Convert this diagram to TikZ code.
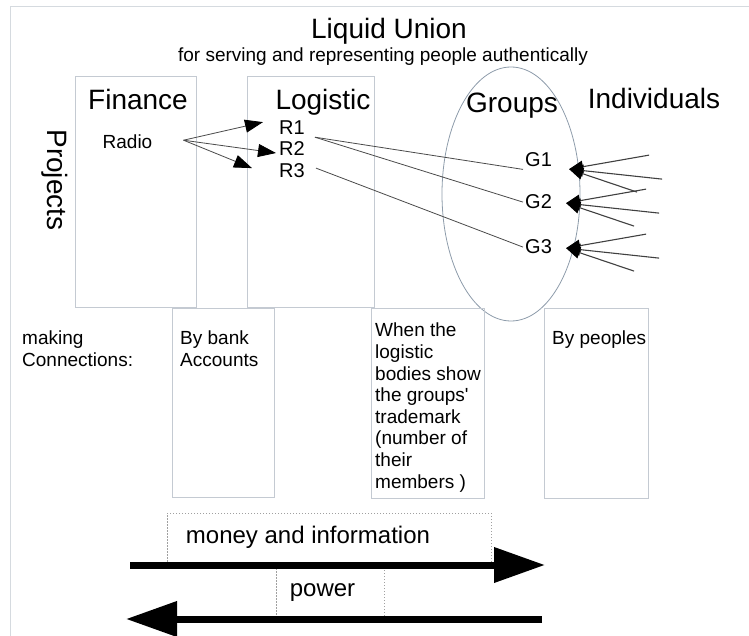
\documentclass[tikz,border=0pt]{standalone}
\usepackage{fontspec}
\setmainfont{Liberation Sans}
\usepackage{tikz}
\usetikzlibrary{shapes.geometric,arrows.meta,positioning}
\definecolor{framegrey}{HTML}{D5DADF}
\definecolor{boxgrey}{HTML}{C4CAD2}
\definecolor{ringgrey}{HTML}{8E9CAB}
\definecolor{linkgrey}{HTML}{4A4A4A}
\definecolor{dotgrey}{HTML}{A0A0A0}

\begin{document}
\begin{tikzpicture}[x=1pt, y=-1pt]
\tikzset{%
  heading/.style = {font=\fontsize{28}{32}\selectfont, inner sep=0pt},
  subtext/.style = {font=\fontsize{19}{22}\selectfont, inner sep=0pt},
  body/.style = {font=\fontsize{19}{21.6}\selectfont, inner sep=0pt, align=left},
  rtag/.style = {font=\fontsize{20}{22}\selectfont, inner sep=2pt},
  flowtext/.style = {font=\fontsize{24}{28}\selectfont, inner sep=0pt},
  panel/.style = {draw=boxgrey, line width=0.9pt, inner sep=0pt, outer sep=0pt},
  dotbox/.style = {draw=dotgrey, line width=0.8pt, dash pattern=on 1.5pt off 1.5pt,
    inner sep=0pt},
  feed/.style = {draw=linkgrey, line width=0.8pt,
    -{Triangle[length=18pt,width=13pt,color=black]}},
  link/.style = {draw=linkgrey, line width=0.8pt},
  member/.style = {draw=black!75, line width=1.1pt,
    -{Triangle[length=14pt,width=12pt,color=black]}},
  flowarrow/.style = {line width=7pt, -{Triangle[length=51pt,width=34pt]}}
}
  \useasboundingbox (0,0) rectangle (749,636);
  \draw[framegrey, line width=1pt] (10,640) -- (10,7) -- (749,7);

  \node[heading, anchor=base] (title) at (389,39){Liquid Union};
  \node[subtext, anchor=base] (subtitle) at (383,62)
    {for serving and representing people authentically};

  \node[panel, minimum width=121pt, minimum height=231pt] (financebox) at (135.5,191.5){};
  \node[panel, minimum width=127pt, minimum height=231pt] (logisticbox) at (310.5,191.5){};
  \node[draw=ringgrey, line width=0.8pt, ellipse, minimum width=138pt,
    minimum height=254pt, inner sep=0pt] (groupring) at (511,194){};

  \node[heading, anchor=base] (finance) at (138,110){Finance};
  \node[heading, anchor=base] (logistic) at (323,110){Logistic};
  \node[heading, anchor=base] (groups) at (512,113){Groups};
  \node[heading, anchor=base] (individuals) at (654,109){Individuals};
  \node[heading, anchor=base, rotate=-90] (projects) at (47,180){Projects};

  \node[subtext, anchor=base] (radio) at (127.5,149){Radio};
  \node[rtag, anchor=base west] (R1) at (277,135){R1};
  \node[rtag, anchor=base west] (R2) at (277,156){R2};
  \node[rtag, anchor=base west] (R3) at (277,178){R3};
  \node[rtag, anchor=base west] (G1) at (523,167){G1};
  \node[rtag, anchor=base west] (G2) at (523,209){G2};
  \node[rtag, anchor=base west] (G3) at (523,254){G3};

  \draw[feed] ([xshift=31pt,yshift=2pt]radio.east) -- ([xshift=-14pt,yshift=6pt]R1.west);
  \draw[feed] ([xshift=31pt,yshift=2pt]radio.east) -- ([xshift=-1pt,yshift=-4pt]R2.west);
  \draw[feed] ([xshift=31pt,yshift=2pt]radio.east) -- ([xshift=-25pt,yshift=3pt]R3.west);

  \draw[link] ([xshift=8pt]R1.south east) -- (G1.south west);
  \draw[link] ([xshift=8pt]R1.south east) -- (G2.west);
  \draw[link] ([xshift=9pt,yshift=3pt]R3.east) -- (G3.west);

  \foreach \g/\dx/\dy in {G1/15/-9, G2/12/-1, G3/12/-1}{
    \foreach \sx/\sy in {80/14, 93/-10, 68/-23}
      \draw[member] ([xshift={(\dx+\sx)*1pt}, yshift={(\dy+\sy)*1pt}]\g.east)
        -- ([xshift=\dx pt, yshift=\dy pt]\g.east);
  }

  \node[panel, minimum width=102pt, minimum height=189pt] (bankbox) at (223,402.5){};
  \node[panel, minimum width=113pt, minimum height=190pt] (trademarkbox) at (427.5,403){};
  \node[panel, minimum width=104pt, minimum height=190pt] (peoplebox) at (596,403){};

  \node[body, anchor=north west] (making) at (22,331){making\\Connections:};
  \node[body, below right=23pt and 8pt of bankbox.north west] (bank){By bank\\Accounts};
  \node[body, below right=15pt and 4pt of trademarkbox.north west] (trademark)
    {When the\\logistic\\bodies show\\the groups\textquotesingle\\trademark\\(number of\\their\\members )};
  \node[body, below right=23pt and 8pt of peoplebox.north west] (peoples){By peoples};

  \node[dotbox, minimum width=324pt, minimum height=52pt] (moneybox) at (329,539){};
  \node[dotbox, minimum width=108pt, minimum height=54pt] (powerbox) at (330,592){};
  \node[flowtext, anchor=base] (money) at (308,543){money and information};
  \node[flowtext, anchor=base] (power) at (322.5,596){power};

  \coordinate (moneyL) at (130,565);
  \coordinate (moneyR) at (545,565);
  \coordinate (powerR) at (542,619);
  \coordinate (powerL) at (126,619);
  \draw[flowarrow] (moneyL) -- (moneyR);
  \draw[flowarrow] (powerR) -- (powerL);
\end{tikzpicture}
\end{document}
